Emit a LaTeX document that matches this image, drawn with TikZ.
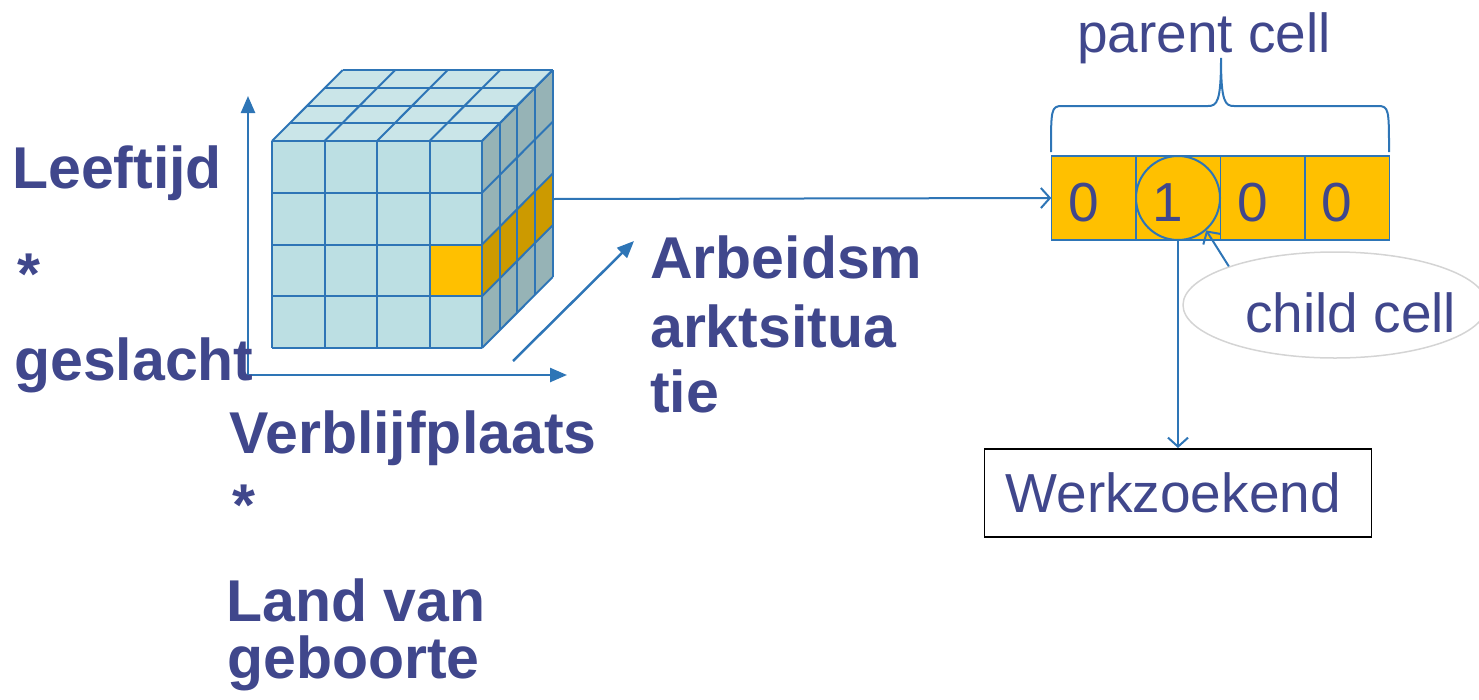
\documentclass[tikz,border=0pt]{standalone}
\usepackage{fontspec}
\setmainfont{Liberation Sans}
\usepackage{tikz}
\usetikzlibrary{positioning, arrows.meta, shapes.geometric}
\definecolor{lineblue}{HTML}{2E75B6}
\definecolor{textblue}{HTML}{40478C}
\definecolor{frontblue}{HTML}{BCDFE3}
\definecolor{topblue}{HTML}{CAE5E8}
\definecolor{sideblue}{HTML}{96B3B6}
\definecolor{gold}{HTML}{FFC000}
\definecolor{darkgold}{HTML}{CC9A00}
\definecolor{calloutgray}{HTML}{D4D4D4}
\newcommand{\plaintext}{\fontsize{55}{62}\selectfont}
\newcommand{\boldtext}{\fontsize{59}{66}\selectfont\bfseries}
\tikzstyle{cubeline} = [draw=lineblue, line width=2pt, line join=round]
\tikzstyle{line} = [draw=lineblue, line width=2pt, -{Straight Barb[length=9pt,width=20pt]}]
\tikzstyle{axis} = [draw=lineblue, line width=2.5pt, -{Triangle[length=17pt,width=14pt]}]
\tikzstyle{bit} = [rectangle, draw=lineblue, line width=1.5pt, fill=gold, outer sep=0pt,
    minimum width=84.5pt, minimum height=84pt, inner sep=0pt, text height=46pt, text depth=0pt,
    execute at end node={\hspace*{20pt}}, text=textblue, font=\plaintext]
\tikzstyle{dim} = [anchor=base west, inner sep=0pt, text=textblue, font=\boldtext]
\tikzstyle{box} = [rectangle, draw=black, line width=1.5pt, text width=345pt, inner xsep=21pt,
    minimum height=88pt, align=left, text=textblue, font=\plaintext]
\tikzstyle{callout} = [ellipse, draw=calloutgray, line width=1.5pt, minimum width=304pt,
    minimum height=106pt]

\begin{document}
\begin{tikzpicture}[x=1pt, y=-1pt]
      \useasboundingbox (0,0) rectangle (1479,699);
      % Cube faces
      \fill[frontblue] (272,141) rectangle (482,348);
      \fill[topblue] (272,141) -- (482,141) -- (552.7,70) -- (342.7,70) -- cycle;
      \fill[sideblue] (482,141) -- (552.7,70) -- (552.7,277) -- (482,348) -- cycle;
      \fill[gold] (430,244.5) rectangle (482,296.25);
      \fill[darkgold] (482,244.5) -- ++(70.7,-71) -- ++(0,51.75) -- (482,296.25) -- cycle;
      \foreach \i in {0,...,4} {
        \draw[cubeline] (272+\i*52.5,141) -- (272+\i*52.5,348);
        \draw[cubeline] (272,141+\i*51.75) -- (482,141+\i*51.75);
        \draw[cubeline] (272+\i*52.5,141) -- ++(70.7,-71);
        \draw[cubeline] (272+\i*17.68,141-\i*17.75) -- ++(210,0);
        \draw[cubeline] (482+\i*17.68,141-\i*17.75) -- ++(0,207);
        \draw[cubeline] (482,141+\i*51.75) -- ++(70.7,-71);
      }

      % Axes
      \coordinate (origin) at (248,375);
      \coordinate (yend) at (248,96);
      \coordinate (xend) at (567,375);
      \coordinate (zstart) at (513,361);
      \coordinate (zend) at (634,241);
      \draw[axis] (origin) -- (yend);
      \draw[axis] (origin) -- (xend);
      \draw[axis] (zstart) -- (zend);

      % Dimension labels
      \node[dim] (age) at (12,188) {Leeftijd};
      \node[dim] (star1) at (17,294) {*};
      \node[dim] (sex) at (14,380) {geslacht};
      \node[dim] (res) at (229,453) {Verblijfplaats};
      \node[dim] (star2) at (232,525) {*};
      \node[dim] (land) at (226,621) {Land van};
      \node[dim] (birth) at (227,678) {geboorte};
      \node[dim] (work1) at (650,278) {Arbeidsm};
      \node[dim] (work2) at (650,347) {arktsitua};
      \node[dim] (work3) at (650,412) {tie};

      % Parent cell
      \node[bit] (b0) at (1093.5,198) {0};
      \node[bit, right=0pt of b0] (b1) {1};
      \node[bit, right=0pt of b1] (b2) {0};
      \node[bit, right=0pt of b2] (b3) {0};
      \node[draw=lineblue, line width=2pt, circle, minimum size=84pt, inner sep=0pt] (child) at (b1) {};
      \node[anchor=base west, inner sep=0pt, text=textblue, font=\plaintext] (parent) at (1077,52) {parent cell};
      \draw[lineblue, line width=2pt] (1051,152) .. controls (1051,110) and (1051,106) .. (1062,106)
        -- (1208,106) .. controls (1217,106) and (1221,102) .. (1221,58)
        .. controls (1221,102) and (1225,106) .. (1234,106)
        -- (1378,106) .. controls (1389,106) and (1389,110) .. (1389,152);

      \coordinate (cubeout) at (553,199);
      \path[line] (cubeout) -- (b0.west);

      \node[box, below=207pt of child] (werk) {Werkzoekend};
      \path[line] (child.south) -- (werk.north);

      \node[callout] (note) at (1335,305) {};
      \node[anchor=base west, inner sep=0pt, text=textblue, font=\plaintext] (notetext) at (1245,332) {child cell};
      \path[line] (note.160) -- (child.-49);
\end{tikzpicture}
\end{document}
